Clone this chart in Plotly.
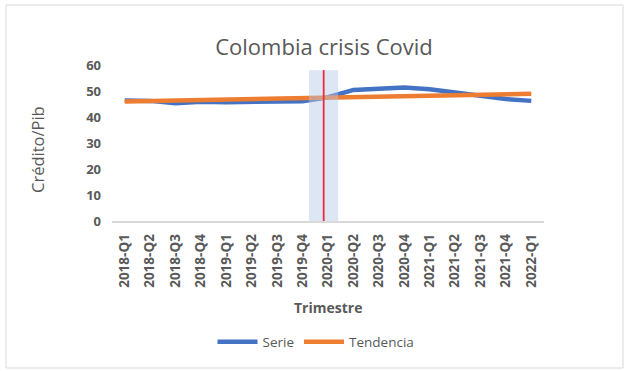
import plotly.graph_objects as go

trimestres = ["2018-Q1", "2018-Q2", "2018-Q3", "2018-Q4", "2019-Q1", "2019-Q2", "2019-Q3", "2019-Q4",
              "2020-Q1", "2020-Q2", "2020-Q3", "2020-Q4", "2021-Q1", "2021-Q2", "2021-Q3", "2021-Q4", "2022-Q1"]
serie = [46.3, 46.2, 45.3, 45.9, 45.7, 45.8, 45.9, 46.1, 47.6, 50.4, 50.9, 51.3, 50.7, 49.3, 48.0, 46.9, 46.2]
tendencia = [46.0, 46.2, 46.4, 46.5, 46.7, 46.9, 47.0, 47.2, 47.4, 47.6, 47.8, 47.9, 48.1, 48.3, 48.5, 48.7, 48.9]

gray = "#595959"
FONT = "'Open Sans', sans-serif"
L, R, T, B = 112, 80, 65, 150
PW, PH = 624 - L - R, 371 - T - B

def px_x(x):
    return (x - L) / PW

def px_y(y):
    return (371 - B - y) / PH

fig = go.Figure()
fig.add_trace(go.Scatter(x=trimestres, y=serie, mode="lines", name="Serie",
                         line=dict(color="#4472C4", width=4.5)))
fig.add_trace(go.Scatter(x=trimestres, y=tendencia, mode="lines", name="Tendencia",
                         line=dict(color="#ED7D31", width=4.5)))

# shaded covid band and red marker line (drawn over the series)
fig.add_shape(type="rect", xref="x", yref="y", x0=7.25, x1=8.4, y0=0, y1=58,
              fillcolor="rgba(180,199,231,0.45)", line_width=0, layer="above")
fig.add_shape(type="line", xref="x", yref="y", x0=7.83, x1=7.83, y0=0, y1=58,
              line=dict(color="#F02A3E", width=1.8), layer="above")
# outer chart border
fig.add_shape(type="rect", xref="paper", yref="paper",
              x0=px_x(6), x1=px_x(623), y0=px_y(368), y1=px_y(5),
              line=dict(color="#D9D9D9", width=1), fillcolor="rgba(0,0,0,0)")

fig.add_annotation(text="Crédito/Pib", xref="paper", yref="paper", x=px_x(37), y=px_y(150),
                   showarrow=False, textangle=-90, font=dict(size=16.5, color=gray, family=FONT),
                   xanchor="center", yanchor="middle")
fig.add_annotation(text="<b>Trimestre</b>", xref="paper", yref="paper", x=px_x(328), y=px_y(307),
                   showarrow=False, font=dict(size=14, color=gray, family=FONT),
                   xanchor="center", yanchor="middle")

fig.update_layout(
    width=624, height=371,
    margin=dict(l=L, r=R, t=T, b=B, autoexpand=False),
    paper_bgcolor="white", plot_bgcolor="white",
    font=dict(family=FONT, color=gray),
    title=dict(text="Colombia crisis Covid", x=324 / 624, xanchor="center", y=1 - 47 / 371, yanchor="middle",
               font=dict(size=22, color=gray, family=FONT)),
    xaxis=dict(type="category", range=[-0.5, 16.5], tickangle=-90, showgrid=False, automargin=False,
               showline=True, linecolor="#D9D9D9", linewidth=1.5, ticks="", ticklabelstandoff=6,
               tickfont=dict(size=13.5, color=gray, family=FONT, weight="bold")),
    yaxis=dict(range=[0, 60], dtick=10, showgrid=False, zeroline=False, showline=False, ticks="",
               automargin=False, ticklabelstandoff=10,
               tickfont=dict(size=13, color=gray, family=FONT, weight="bold")),
    legend=dict(orientation="h", x=px_x(316), xanchor="center", y=px_y(342), yanchor="middle",
                font=dict(size=13.5, color=gray, family=FONT), itemwidth=40, tracegroupgap=0),
    showlegend=True,
)

fig.write_html("out.html", config={"displayModeBar": False},
               post_script="document.body.style.margin='0';document.body.style.padding='0';")
